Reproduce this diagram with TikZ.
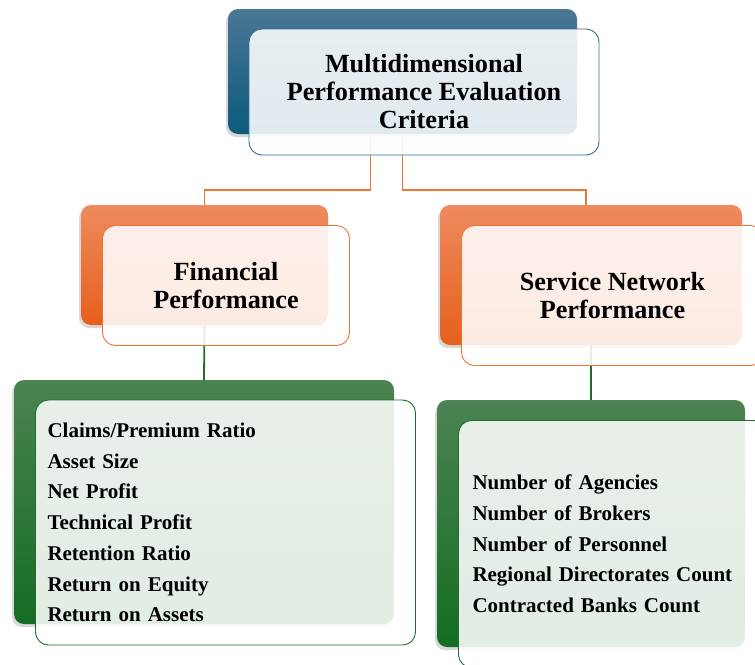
\documentclass[tikz,border=0pt]{standalone}
\usepackage{fontspec}
\setmainfont{Liberation Serif}
\usetikzlibrary{positioning, shadows}
\newcommand{\headfont}{\bfseries\fontsize{26.2}{28}\selectfont}
\newcommand{\listfont}{\bfseries\fontsize{21}{30.7}\selectfont}
\newcommand{\dx}{21.5}
\newcommand{\dy}{20.5}

\definecolor{bluetop}{HTML}{4B7794}
\definecolor{bluebot}{HTML}{0B5A7E}
\definecolor{blueline}{HTML}{33708F}
\definecolor{orangetop}{HTML}{EE8A5E}
\definecolor{orangebot}{HTML}{E65F1C}
\definecolor{orangeline}{HTML}{EE7634}
\definecolor{greentop}{HTML}{4B8352}
\definecolor{greenbot}{HTML}{146D22}
\definecolor{greenline}{HTML}{1E6E2A}

\tikzset{
    backbox/.style={rounded corners=10pt, inner sep=0pt,
        drop shadow={shadow xshift=-2pt, shadow yshift=-3pt, opacity=0.3}},
    frontbox/.style={draw, rounded corners=13pt, fill=white, fill opacity=0.88,
        text opacity=1, line width=0.9pt, inner sep=0pt},
    link/.style={line width=1.8pt}
}

\begin{document}
\begin{tikzpicture}[x=1pt, y=-1pt]
        \fill[white] (0,0) rectangle (755,664);
        \useasboundingbox (0,0) rectangle (755,664);
        \clip (0,0) rectangle (755,664);

        % coloured boxes at the back
        \node[backbox, top color=bluetop, bottom color=bluebot,
            minimum width=349pt, minimum height=125pt] (topback) at (402.5,71.5) {};
        \node[backbox, top color=orangetop, bottom color=orangebot,
            minimum width=247pt, minimum height=120pt] (finback) at (204.5,265) {};
        \node[backbox, top color=orangetop, bottom color=orangebot,
            minimum width=302pt, minimum height=140pt] (netback) at (591,275) {};
        \node[backbox, top color=greentop, bottom color=greenbot,
            minimum width=380pt, minimum height=244pt] (finlistback) at (204,502) {};
        \node[backbox, top color=greentop, bottom color=greenbot,
            minimum width=308pt, minimum height=247pt] (netlistback) at (591,523.5) {};

        % links
        \draw[link, orangeline] ([xshift=-32pt]topback.south) -- ++(0,56) -| (finback.north);
        \draw[link, orangeline] (topback.south) -- ++(0,56) -| ([xshift=-5pt]netback.north);
        \draw[link, greenline] (finback.south) -- (finlistback.north);
        \draw[link, greenline] (netback.south) -- (netlistback.north);

        % light boxes on top
        \node[frontbox, draw=blueline, minimum width=350pt, minimum height=126pt,
            align=center, font=\headfont] (top) at ([shift={(\dx,\dy)}]topback.center)
            { Multidimensional\\ Performance Evaluation\\ Criteria };
        \node[frontbox, draw=orangeline, minimum width=247pt, minimum height=120pt,
            align=center, font=\headfont] (fin) at ([shift={(\dx,\dy)}]finback.center)
            { Financial\\ Performance };
        \node[frontbox, draw=orangeline, minimum width=302pt, minimum height=140pt,
            align=center, font=\headfont] (net) at ([shift={(\dx,\dy)}]netback.center)
            { Service Network\\ Performance };
        \node[frontbox, draw=greenline, minimum width=380pt, minimum height=245pt,
            inner xsep=12pt, text width=356pt, align=left, font=\listfont] (finlist)
            at ([shift={(\dx,\dy)}]finlistback.center)
            { Claims/Premium Ratio\\ Asset Size\\ Net Profit\\ Technical Profit\\
              Retention Ratio\\ Return on Equity\\ Return on Assets };
        \node[frontbox, draw=greenline, minimum width=308pt, minimum height=247pt,
            inner xsep=14pt, text width=280pt, align=left, font=\listfont] (netlist)
            at ([shift={(\dx,\dy)}]netlistback.center)
            { Number of Agencies\\ Number of Brokers\\ Number of Personnel\\
              Regional Directorates Count\\ Contracted Banks Count };
    \end{tikzpicture}
\end{document}
